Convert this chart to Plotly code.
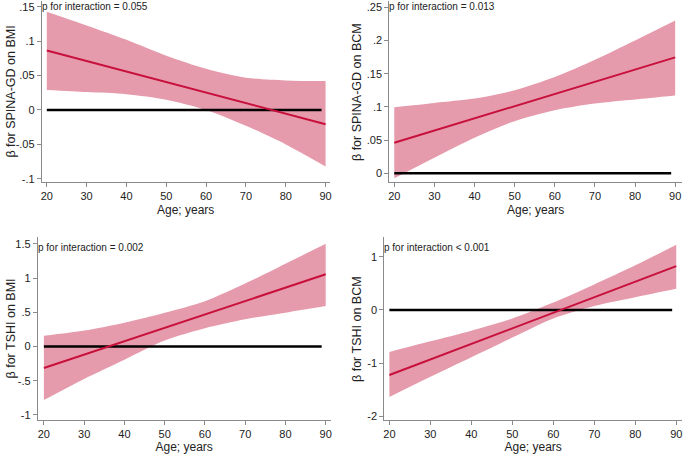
import plotly.graph_objects as go

W, H = 685, 454

age = [20, 30, 40, 50, 60, 70, 80, 90]
zero_x = [20, 89]

# Panel 1: SPINA-GD on BMI
p1_line = [0.0865, -0.0207]
p1_upper = [0.143, 0.123, 0.102, 0.079, 0.060, 0.047, 0.043, 0.042]
p1_lower = [0.029, 0.026, 0.023, 0.015, 0.000, -0.023, -0.050, -0.082]

# Panel 2: SPINA-GD on BCM
p2_line = [0.046, 0.1745]
p2_upper = [0.0995, 0.106, 0.1125, 0.125, 0.145, 0.171, 0.200, 0.230]
p2_lower = [-0.0075, 0.0235, 0.0535, 0.0785, 0.095, 0.105, 0.111, 0.117]

# Panel 3: TSHI on BMI
p3_line = [-0.314, 1.054]
p3_upper = [0.155, 0.232, 0.348, 0.493, 0.662, 0.919, 1.209, 1.50]
p3_lower = [-0.783, -0.474, -0.193, 0.087, 0.266, 0.397, 0.493, 0.590]

# Panel 4: TSHI on BCM
p4_line = [-1.225, 0.825]
p4_upper = [-0.79, -0.59, -0.39, -0.16, 0.14, 0.48, 0.84, 1.23]
p4_lower = [-1.64, -1.26, -0.89, -0.52, -0.16, 0.075, 0.24, 0.40]

x_ticks = [20, 30, 40, 50, 60, 70, 80, 90]
p1_yticks = [-0.1, -0.05, 0, 0.05, 0.1, 0.15]
p1_ylabels = ["-.1", "-.05", "0", ".05", ".1", ".15"]
p2_yticks = [0, 0.05, 0.1, 0.15, 0.2, 0.25]
p2_ylabels = ["0", ".05", ".1", ".15", ".2", ".25"]
p3_yticks = [-1, -0.5, 0, 0.5, 1, 1.5]
p3_ylabels = ["-1", "-.5", "0", ".5", "1", "1.5"]
p4_yticks = [-2, -1, 0, 1]
p4_ylabels = ["-2", "-1", "0", "1"]

titles_y = ["β for SPINA-GD on BMI", "β for SPINA-GD on BCM",
            "β for TSHI on BMI", "β for TSHI on BCM"]
p_texts = ["p for interaction = 0.055", "p for interaction = 0.013",
           "p for interaction = 0.002", "p for interaction < 0.001"]

FILL = "rgba(230,155,172,1)"
LINE = "rgb(200,16,60)"
AXC = "#8a8a8a"
FONT = "Liberation Sans, Arial, sans-serif"

panels = [
    dict(px=(41, 330, 1, 183), xr=[18.75, 91.0], yr=[-0.105, 0.1585],
         line=p1_line, up=p1_upper, lo=p1_lower, yt=p1_yticks, yl=p1_ylabels, tx=10),
    dict(px=(390, 684, 1, 183), xr=[18.76, 91.7], yr=[-0.0135, 0.2595],
         line=p2_line, up=p2_upper, lo=p2_lower, yt=p2_yticks, yl=p2_ylabels, tx=357),
    dict(px=(37, 331, 238, 422), xr=[18.5, 91.2], yr=[-1.077, 1.6],
         line=p3_line, up=p3_upper, lo=p3_lower, yt=p3_yticks, yl=p3_ylabels, tx=10),
    dict(px=(385, 684, 238, 422), xr=[18.76, 91.4], yr=[-2.075, 1.375],
         line=p4_line, up=p4_upper, lo=p4_lower, yt=p4_yticks, yl=p4_ylabels, tx=357),
]

fig = go.Figure()
layout = dict(width=W, height=H, margin=dict(l=0, r=0, t=0, b=0),
              paper_bgcolor="white", plot_bgcolor="white", showlegend=False,
              font=dict(family=FONT, color="#222"))
annotations = []
for i, p in enumerate(panels):
    n = "" if i == 0 else str(i + 1)
    xa, ya = "x" + n, "y" + n
    x0, x1, yt, yb = p["px"]
    fig.add_trace(go.Scatter(
        x=age, y=p["lo"], mode="lines",
        line=dict(width=0, color=FILL, shape="spline", smoothing=0.8),
        xaxis=xa, yaxis=ya, hoverinfo="skip"))
    fig.add_trace(go.Scatter(
        x=age, y=p["up"], mode="lines", fill="tonexty", fillcolor=FILL,
        line=dict(width=0, color=FILL, shape="spline", smoothing=0.8),
        xaxis=xa, yaxis=ya, hoverinfo="skip"))
    fig.add_trace(go.Scatter(
        x=zero_x, y=[0, 0], mode="lines", line=dict(color="black", width=2.5),
        xaxis=xa, yaxis=ya))
    fig.add_trace(go.Scatter(
        x=[age[0], age[-1]], y=p["line"], mode="lines",
        line=dict(color=LINE, width=2), xaxis=xa, yaxis=ya))
    axis_common = dict(showgrid=False, zeroline=False, showline=True, linecolor=AXC,
                       linewidth=1, ticks="outside", ticklen=4, tickcolor=AXC,
                       tickfont=dict(size=11, color="#222", family=FONT))
    layout["xaxis" + n] = dict(axis_common, domain=[x0 / W, x1 / W], range=p["xr"],
                               anchor=ya, tickvals=x_ticks,
                               title=dict(text="Age; years", font=dict(size=12, family=FONT), standoff=4))
    layout["yaxis" + n] = dict(axis_common, domain=[1 - yb / H, 1 - yt / H], range=p["yr"],
                               anchor=xa, tickvals=p["yt"], ticktext=p["yl"])
    annotations.append(dict(text=titles_y[i], x=p["tx"] / W, y=1 - (yt + yb) / 2 / H,
                            xref="paper", yref="paper", textangle=-90, showarrow=False,
                            font=dict(size=12.5, family=FONT, color="#222"),
                            xanchor="center", yanchor="middle"))
    annotations.append(dict(text=p_texts[i], x=(x0 - 2) / W,
                            y=1 - (yt + (6 if i < 2 else 11)) / H,
                            xref="paper", yref="paper", showarrow=False,
                            font=dict(size=10, family=FONT, color="#222"),
                            xanchor="left", yanchor="middle"))
layout["annotations"] = annotations
fig.update_layout(**layout)
fig.write_html("out.html", config={"displayModeBar": False},
               post_script="document.body.style.margin='0';document.body.style.padding='0';")
